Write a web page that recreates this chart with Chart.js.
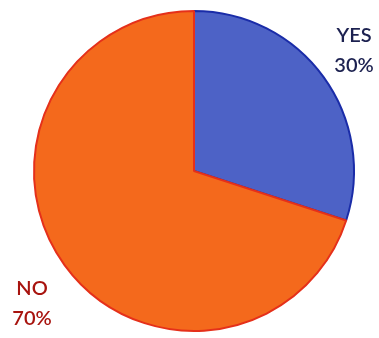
<!DOCTYPE html>
<html>
<head>
<meta charset="utf-8">
<script src="https://cdn.jsdelivr.net/npm/chart.js@4/dist/chart.umd.min.js"></script>
<style>
html,body{margin:0;padding:0;background:#ffffff;}
#wrap{width:379px;height:338px;position:relative;}
</style>
</head>
<body>
<div id="wrap"><canvas id="c" width="379" height="338"></canvas></div>
<script>
const categories = ["YES", "NO"];
const values = [30, 70];
const valueLabels = ["30%", "70%"];

const fillColors = ["#4d62c6", "#f4691c"];
const edgeColors = ["#1a2ca8", "#e5301a"];
const textColors = ["#1c2150", "#a8140f"];
const labelPos = [[354, 36], [32, 289]];

const labelPlugin = {
  id: 'outerLabels',
  afterDraw(chart) {
    const ctx = chart.ctx;
    ctx.save();
    ctx.font = '600 20px Lato, "Open Sans", sans-serif';
    ctx.textAlign = 'center';
    ctx.textBaseline = 'middle';
    categories.forEach((cat, i) => {
      ctx.fillStyle = textColors[i];
      const [x, y] = labelPos[i];
      ctx.fillText(cat, x, y);
      ctx.fillText(valueLabels[i], x, y + 30);
    });
    ctx.restore();
  }
};

new Chart(document.getElementById('c'), {
  type: 'pie',
  data: {
    labels: categories,
    datasets: [{
      data: values,
      backgroundColor: fillColors,
      borderColor: edgeColors,
      borderWidth: 2
    }]
  },
  options: {
    responsive: false,
    animation: false,
    layout: { padding: { left: 33, right: 24, top: 10, bottom: 6 } },
    plugins: {
      legend: { display: false },
      tooltip: { enabled: false }
    }
  },
  plugins: [labelPlugin]
});
</script>
</body>
</html>
